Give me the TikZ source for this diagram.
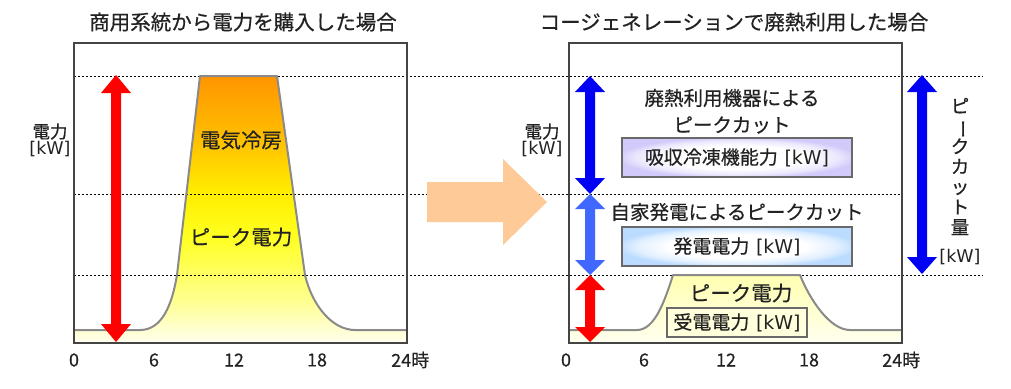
\documentclass[tikz,border=0pt]{standalone}
\usepackage{fontspec}
\setmainfont{Noto Sans CJK JP}[FakeBold=0.5]
\newfontfamily\latinf{DejaVu Sans}
\usepackage{graphicx}
\definecolor{txt}{HTML}{222222}
\definecolor{framec}{HTML}{444444}
\definecolor{curvec}{HTML}{8A8A8A}
\definecolor{peach}{RGB}{253,202,152}
\definecolor{dblue}{HTML}{0000F5}
\definecolor{lblue}{HTML}{4068FF}
\definecolor{rred}{HTML}{FF0000}
\definecolor{orangetop}{HTML}{FF9500}
\definecolor{orangemid}{HTML}{FFC000}
\definecolor{yelmid}{HTML}{FFEE00}
\definecolor{yelb}{HTML}{FFFF20}
\definecolor{yelpale}{HTML}{FFFF90}
\definecolor{palebot}{HTML}{FFFFF0}
\definecolor{lavender}{HTML}{D2CAFA}
\definecolor{skyb}{HTML}{BCDCFF}
\definecolor{cream}{HTML}{FFFFB0}
\pgfdeclareverticalshading{peakfill}{100bp}{color(0bp)=(palebot); color(25bp)=(palebot);
  color(33bp)=(yelpale); color(45bp)=(yelb); color(53bp)=(yelmid); color(63bp)=(orangemid);
  color(75bp)=(orangetop); color(100bp)=(orangetop)}
\pgfdeclareverticalshading{lowfill}{100bp}{color(0bp)=(palebot); color(25bp)=(palebot);
  color(75bp)=(cream); color(100bp)=(cream)}
\pgfdeclareradialshading{lavfill}{\pgfpoint{0bp}{0bp}}{color(0bp)=(white); color(15bp)=(white);
  color(22bp)=(lavender!45); color(26bp)=(lavender); color(50bp)=(lavender)}
\pgfdeclareradialshading{skyfill}{\pgfpoint{0bp}{0bp}}{color(0bp)=(white); color(15bp)=(white);
  color(22bp)=(skyb!45); color(26bp)=(skyb); color(50bp)=(skyb)}
\newcommand\dblarrow[5]{% color, x, ytop, ybottom, head length
  \fill[#1] (#2,#3) -- ({#2+15},{#3+#5}) -- ({#2+5},{#3+#5}) -- ({#2+5},{#4-#5})
    -- ({#2+15},{#4-#5}) -- (#2,#4) -- ({#2-15},{#4-#5}) -- ({#2-5},{#4-#5})
    -- ({#2-5},{#3+#5}) -- ({#2-15},{#3+#5}) -- cycle;}
\newcommand\kwu{{\latinf [kW]}}
\begin{document}
\begin{tikzpicture}[x=1pt,y=-1pt,
  lbl/.style={text=txt,inner sep=0pt,font=\fontsize{19.5}{21}\selectfont},
  big/.style={text=txt,inner sep=0pt,font=\fontsize{20.5}{22}\selectfont},
  ttl/.style={text=txt,inner sep=0pt,font=\fontsize{20.5}{22}\selectfont},
  axl/.style={text=txt,inner sep=0pt,font=\fontsize{18}{20}\selectfont},
  unitl/.style={text=txt,inner sep=0pt,align=center,font=\fontsize{17.5}{19}\selectfont},
  dotl/.style={black,line width=1pt,dash pattern=on 2pt off 2pt},
  framel/.style={draw=framec,line width=1.3pt},
  curvel/.style={draw=curvec,line width=2pt,line join=round},
  boxl/.style={draw=framec!80,line width=1.2pt,inner sep=0pt,text=txt,font=\fontsize{19}{21}\selectfont}]
\useasboundingbox[fill=white] (0,0) rectangle (1011,388);

% ---------- left panel fill ----------
\shade[shading=peakfill]
  (74,343) -- (74,330) -- (140,330) .. controls (162,330) and (172,305) .. (177,275)
  -- (200,76) -- (277,76) -- (305,275) .. controls (312,305) and (332,330) .. (355,330)
  -- (407,330) -- (407,343) -- cycle;
% ---------- right panel fill ----------
\shade[shading=lowfill]
  (569,343) -- (569,330) -- (637,330) .. controls (655,330) and (665,300) .. (673,275)
  -- (800,275) .. controls (810,300) and (830,330) .. (850,330)
  -- (902,330) -- (902,343) -- cycle;

% ---------- dotted level lines ----------
\draw[dotl] (74,76) -- (983,76);
\draw[dotl] (74,194) -- (900,194);
\draw[dotl] (74,275) -- (983,275);

% ---------- curves ----------
\draw[curvel] (74,330) -- (140,330) .. controls (162,330) and (172,305) .. (177,275)
  -- (200,76) -- (277,76) -- (305,275) .. controls (312,305) and (332,330) .. (355,330)
  -- (407,330);
\draw[curvel] (569,330) -- (637,330) .. controls (655,330) and (665,300) .. (673,275)
  -- (800,275) .. controls (810,300) and (830,330) .. (850,330) -- (902,330);

% ---------- frames ----------
\draw[framel] (74,43) rectangle (407,343);
\draw[framel] (569,43) rectangle (902,343);

% ---------- big transition arrow ----------
\fill[peach] (427,182) -- (503,182) -- (503,159) -- (547,202) -- (503,245)
  -- (503,222) -- (427,222) -- cycle;

% ---------- double arrows ----------
\dblarrow{rred}{116}{75}{342}{18}
\dblarrow{dblue}{590}{76}{194}{16}
\dblarrow{lblue}{590}{194}{275}{15}
\dblarrow{rred}{590}{275}{342}{15}
\dblarrow{dblue}{922}{75}{274}{17}

% ---------- titles ----------
\node[ttl] (t1) at (243,22) {商用系統から電力を購入した場合};
\node[ttl] (t2) at (734,22) {コージェネレーションで廃熱利用した場合};

% ---------- unit labels ----------
\node[unitl] (u1) at (50,140) {電力\\[-3pt]\kwu};
\node[unitl] (u2) at (542,140) {電力\\[-3pt]\kwu};

% ---------- left panel labels ----------
\node[big] (l1) at (241,140) {電気冷房};
\node[big] (l2) at (241,237) {ピーク電力};

% ---------- right panel labels ----------
\node[lbl] (r1) at (732,98) {廃熱利用機器による};
\node[lbl] (r2) at (732,125) {ピークカット};
\node[boxl, minimum width=230pt, minimum height=39pt, shading=lavfill] (b1) at (737,157.5) {吸収冷凍機能力\hspace{0.35em}\kwu};
\node[lbl] (r3) at (737,212) {自家発電によるピークカット};
\node[boxl, minimum width=230pt, minimum height=39pt, shading=skyfill] (b2) at (737,246.5) {発電電力\hspace{0.35em}\kwu};
\node[big] (r4) at (741,293) {ピーク電力};
\node[boxl, minimum width=140pt, minimum height=29pt, fill=cream!45] (b3) at (737,322.5) {受電電力\hspace{0.35em}\kwu};

% ---------- vertical label ----------
\node[lbl, align=center, font=\fontsize{18.5}{20.2}\selectfont] (v1) at (960,166.5)
  {ピ\\\rotatebox[origin=c]{-90}{ー}\\ク\\カ\\ッ\\ト\\量};
\node[unitl] (v2) at (960,257) {\kwu};

% ---------- axis labels ----------
\node[axl] (a0) at (74,360) {0};
\node[axl] (a6) at (154,360) {6};
\node[axl] (a12) at (234,360) {12};
\node[axl] (a18) at (317,360) {18};
\node[axl, anchor=west] (a24) at (391,360) {24時};
\node[axl] (b0) at (566,360) {0};
\node[axl] (b6) at (644,360) {6};
\node[axl] (b12) at (726,360) {12};
\node[axl] (b18) at (809,360) {18};
\node[axl, anchor=west] (b24) at (882,360) {24時};
\end{tikzpicture}
\end{document}
